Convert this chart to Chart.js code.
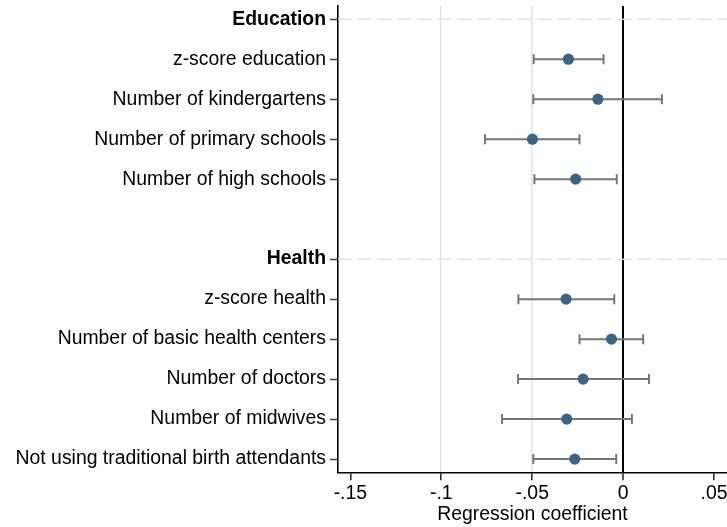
<!DOCTYPE html>
<html>
<head>
<meta charset="utf-8">
<script src="https://cdn.jsdelivr.net/npm/chart.js@4/dist/chart.umd.min.js"></script>
<style>
  html, body { margin: 0; padding: 0; background: #fff; overflow: hidden; }
  #wrap { width: 760px; height: 527px; }
</style>
</head>
<body>
<div id="wrap"><canvas id="c"></canvas></div>
<script>
// Rows top to bottom; '' is the empty spacer row between the two groups.
const rowLabels = [
  "Education",
  "z-score education",
  "Number of kindergartens",
  "Number of primary schools",
  "Number of high schools",
  "",
  "Health",
  "z-score health",
  "Number of basic health centers",
  "Number of doctors",
  "Number of midwives",
  "Not using traditional birth attendants",
];
const headerRows = [0, 6];

// Point estimates and 95% CI bounds.
const coef   = [null, -0.0301, -0.0139, -0.0499, -0.0261, null, null, -0.0314, -0.0064, -0.0220, -0.0310, -0.0266];
const ciLow  = [null, -0.0492, -0.0494, -0.0760, -0.0488, null, null, -0.0576, -0.0240, -0.0578, -0.0666, -0.0494];
const ciHigh = [null, -0.0108,  0.0213, -0.0240, -0.0035, null, null, -0.0049,  0.0110,  0.0142,  0.0048, -0.0038];

const xTicks = [-0.15, -0.1, -0.05, 0, 0.05];
const xTickLabels = ["-.15", "-.1", "-.05", "0", ".05"];
const xGridAt = [-0.1, -0.05];

const FONT = "'Liberation Sans', Arial, sans-serif";
const FS = 19.4;

const points = [];
coef.forEach((v, i) => { if (v !== null) points.push({ x: v, y: i }); });

// error bars + dashed group header lines, drawn from the scales
const coefDecor = {
  id: "coefDecor",
  beforeDatasetsDraw(chart) {
    const { ctx, chartArea, scales: { x, y } } = chart;
    ctx.save();
    ctx.strokeStyle = "#e2e2e2";
    ctx.lineWidth = 1.5;
    ctx.setLineDash([13, 7]);
    headerRows.forEach((r) => {
      const py = y.getPixelForValue(r);
      ctx.beginPath();
      ctx.moveTo(chartArea.left, py);
      ctx.lineTo(chartArea.right, py);
      ctx.stroke();
    });
    ctx.setLineDash([]);
    ctx.strokeStyle = "#777";
    ctx.lineWidth = 2;
    coef.forEach((v, i) => {
      if (v === null) return;
      const py = y.getPixelForValue(i);
      const x0 = x.getPixelForValue(ciLow[i]);
      const x1 = x.getPixelForValue(ciHigh[i]);
      ctx.beginPath();
      ctx.moveTo(x0, py); ctx.lineTo(x1, py);
      ctx.moveTo(x0, py - 5); ctx.lineTo(x0, py + 5);
      ctx.moveTo(x1, py - 5); ctx.lineTo(x1, py + 5);
      ctx.stroke();
    });
    ctx.restore();
  },
};

new Chart(document.getElementById("c"), {
  type: "scatter",
  data: {
    datasets: [{
      data: points,
      backgroundColor: "#3d6481",
      borderColor: "#3d6481",
      pointRadius: 5.6,
      pointBorderWidth: 0,
    }],
  },
  plugins: [coefDecor],
  options: {
    responsive: true,
    maintainAspectRatio: false,
    animation: false,
    devicePixelRatio: 1,
    layout: { padding: { left: 0, right: 33, top: 6, bottom: 0 } },
    plugins: { legend: { display: false }, tooltip: { enabled: false } },
    scales: {
      x: {
        type: "linear",
        min: -0.1568,
        max: 0.0571,
        afterBuildTicks: (s) => { s.ticks = xTicks.map((v) => ({ value: v })); },
        afterFit: (s) => { s.height = 54.7; s.paddingLeft = 0; s.paddingRight = 0; },
        ticks: {
          color: "#000",
          padding: 2,
          maxRotation: 0,
          font: { family: FONT, size: FS },
          callback: (v) => xTickLabels[xTicks.indexOf(v)],
        },
        grid: {
          drawOnChartArea: true,
          color: (c) => c.tick && c.tick.value === 0 ? "#000"
            : (c.tick && xGridAt.includes(c.tick.value) ? "#e4e4e4" : "rgba(0,0,0,0)"),
          lineWidth: (c) => c.tick && c.tick.value === 0 ? 2 : 1.6,
          tickColor: "#222",
          tickLength: 8,
          tickWidth: 1.5,
        },
        border: { color: "#000", width: 1.6 },
        title: {
          display: true,
          text: "Regression coefficient",
          color: "#000",
          font: { family: FONT, size: FS },
          padding: { top: 0, bottom: 1 },
        },
      },
      y: {
        type: "linear",
        reverse: true,
        min: -0.33,
        max: 11.33,
        afterBuildTicks: (s) => {
          s.ticks = rowLabels.map((l, i) => ({ value: i })).filter((t) => rowLabels[t.value] !== "");
        },
        afterFit: (s) => { s.width = 338; s.paddingTop = 0; s.paddingBottom = 0; },
        ticks: {
          color: "#000",
          padding: 4,
          font: (c) => ({
            family: FONT,
            size: FS,
            weight: c.tick && headerRows.includes(c.tick.value) ? "bold" : "normal",
          }),
          callback: (v) => rowLabels[v],
        },
        grid: {
          drawOnChartArea: false,
          tickColor: "#444",
          tickLength: 8,
          tickWidth: 1.5,
        },
        border: { color: "#000", width: 1.6 },
      },
    },
  },
});
</script>
</body>
</html>
